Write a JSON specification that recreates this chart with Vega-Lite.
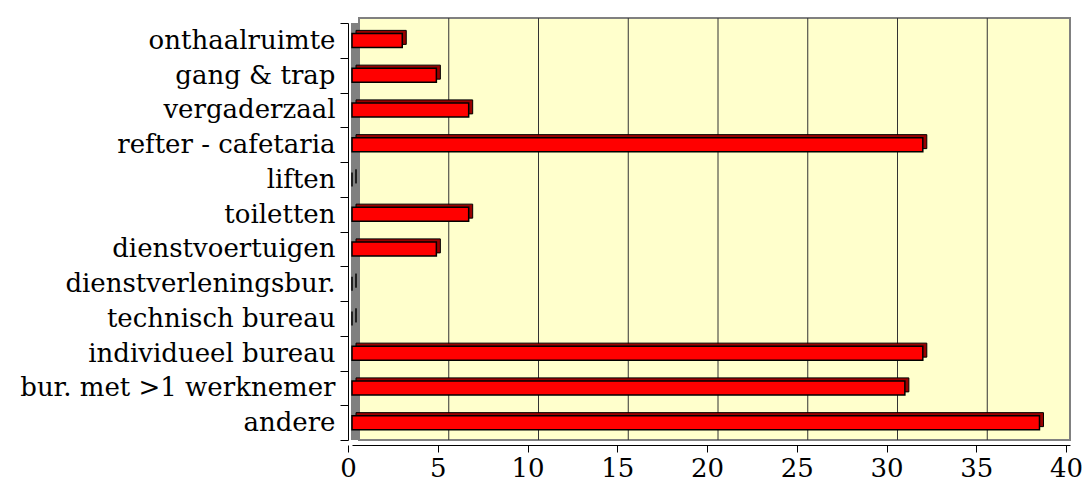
{
  "$schema": "https://vega.github.io/schema/vega-lite/v6.json",
  "autosize": "none",
  "width": 718,
  "height": 417,
  "padding": {"left": 352, "top": 23, "right": 13, "bottom": 51},
  "background": "white",
  "config": {"view": {"stroke": null}, "font": "DejaVu Serif"},
  "datasets": {
    "bars": [
      {"room": "onthaalruimte", "value": 2.8},
      {"room": "gang & trap", "value": 4.7},
      {"room": "vergaderzaal", "value": 6.5},
      {"room": "refter - cafetaria", "value": 31.8},
      {"room": "liften", "value": 0},
      {"room": "toiletten", "value": 6.5},
      {"room": "dienstvoertuigen", "value": 4.7},
      {"room": "dienstverleningsbur.", "value": 0},
      {"room": "technisch bureau", "value": 0},
      {"room": "individueel bureau", "value": 31.8},
      {"room": "bur. met >1 werknemer", "value": 30.8},
      {"room": "andere", "value": 38.3}
    ],
    "grid": [{"g": 5}, {"g": 10}, {"g": 15}, {"g": 20}, {"g": 25}, {"g": 30}, {"g": 35}]
  },
  "layer": [
    {
      "data": {"values": [{"a": 0, "b": 40}]},
      "mark": {"type": "rect", "fill": "#FFFFCC", "stroke": "#808080", "strokeWidth": 2, "xOffset": 7, "yOffset": -5},
      "encoding": {
        "x": {
          "field": "a", "type": "quantitative",
          "scale": {"domain": [0, 40], "nice": false},
          "axis": {
            "title": null, "offset": 5, "tickOffset": -4, "values": [0, 5, 10, 15, 20, 25, 30, 35, 40],
            "tickSize": 7, "tickColor": "black", "domainColor": "black",
            "labelFontSize": 26, "labelColor": "black", "labelPadding": 3,
            "labelFlush": false, "labelFont": "DejaVu Serif", "grid": false
          }
        },
        "x2": {"field": "b"}
      }
    },
    {
      "data": {"name": "grid"},
      "mark": {"type": "rule", "color": "#333333", "strokeWidth": 1, "xOffset": 7, "yOffset": -5},
      "encoding": {
        "x": {"field": "g", "type": "quantitative"}
      }
    },
    {
      "data": {"values": [{"w": 0}]},
      "mark": {"type": "rule", "color": "#808080", "strokeWidth": 8, "xOffset": 3},
      "encoding": {
        "x": {"field": "w", "type": "quantitative"}
      }
    },
    {
      "data": {"name": "bars"},
      "mark": {"type": "bar", "size": 14, "fill": "#990000", "stroke": "black", "strokeWidth": 1, "xOffset": 4, "yOffset": -3},
      "encoding": {
        "y": {
          "field": "room", "type": "nominal", "sort": null,
          "scale": {"paddingInner": 0, "paddingOuter": 0},
          "axis": {
            "title": null, "offset": 4, "tickOffset": 5, "tickBand": "extent",
            "tickSize": 8, "tickColor": "black", "domainColor": "black",
            "labelFontSize": 26, "labelColor": "black", "labelPadding": 5, "labelLimit": 0,
            "labelFont": "DejaVu Serif", "grid": false
          }
        },
        "x": {"field": "value", "type": "quantitative"}
      }
    },
    {
      "data": {"name": "bars"},
      "mark": {"type": "bar", "size": 14, "fill": "#FF0000", "stroke": "black", "strokeWidth": 1.5},
      "encoding": {
        "y": {"field": "room", "type": "nominal", "sort": null},
        "x": {"field": "value", "type": "quantitative"}
      }
    }
  ]
}
